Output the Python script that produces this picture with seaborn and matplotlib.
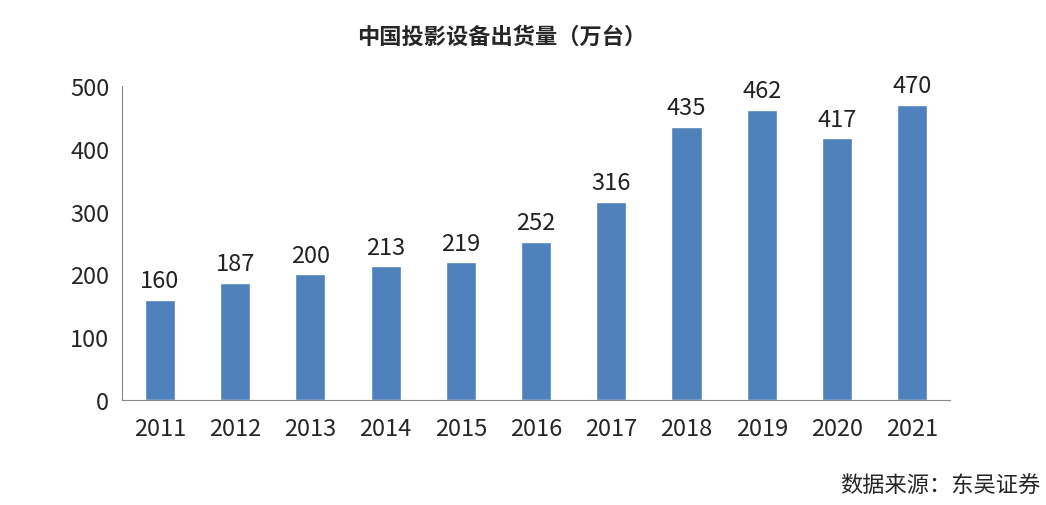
import matplotlib
matplotlib.use("Agg")
import matplotlib.pyplot as plt
import seaborn as sns
import numpy as np

years = ["2011", "2012", "2013", "2014", "2015", "2016", "2017", "2018", "2019", "2020", "2021"]
shipments = [160, 187, 200, 213, 219, 252, 316, 435, 462, 417, 470]

sns.set_style("white")
plt.rcParams['font.family'] = ['Noto Sans CJK SC', 'DejaVu Sans']

fig = plt.figure(figsize=(10.46, 5.06), dpi=100)
ax = fig.add_axes([0.117, 0.2075, 0.791, 0.6205])
sns.barplot(x=years, y=shipments, color="#4F81BD", saturation=1, width=0.4, ax=ax)

for i, v in enumerate(shipments):
    ax.text(i, v + 12, str(v), ha="center", va="bottom", fontsize=17, color="#222222")

ax.set_ylim(0, 500)
ax.set_yticks(range(0, 501, 100))
ax.set_xlim(-0.5, len(years) - 0.5)
ax.set_xticks(np.arange(-0.5, len(years), 1), minor=True)
ax.tick_params(axis="x", which="major", length=0, labelsize=17, pad=12)
ax.tick_params(axis="x", which="minor", length=6, color="#888888", direction="out")
ax.tick_params(axis="y", length=6, color="#888888", labelsize=17, direction="out")
for s in ["top", "right"]:
    ax.spines[s].set_visible(False)
for s in ["left", "bottom"]:
    ax.spines[s].set_color("#888888")

fig.text(0.48, 0.927, "中国投影设备出货量（万台）", ha="center", va="center", fontsize=16, fontweight="bold")
fig.text(0.995, 0.038, "数据来源：东吴证券", ha="right", va="center", fontsize=16)

fig.savefig("out.png", dpi=100)
